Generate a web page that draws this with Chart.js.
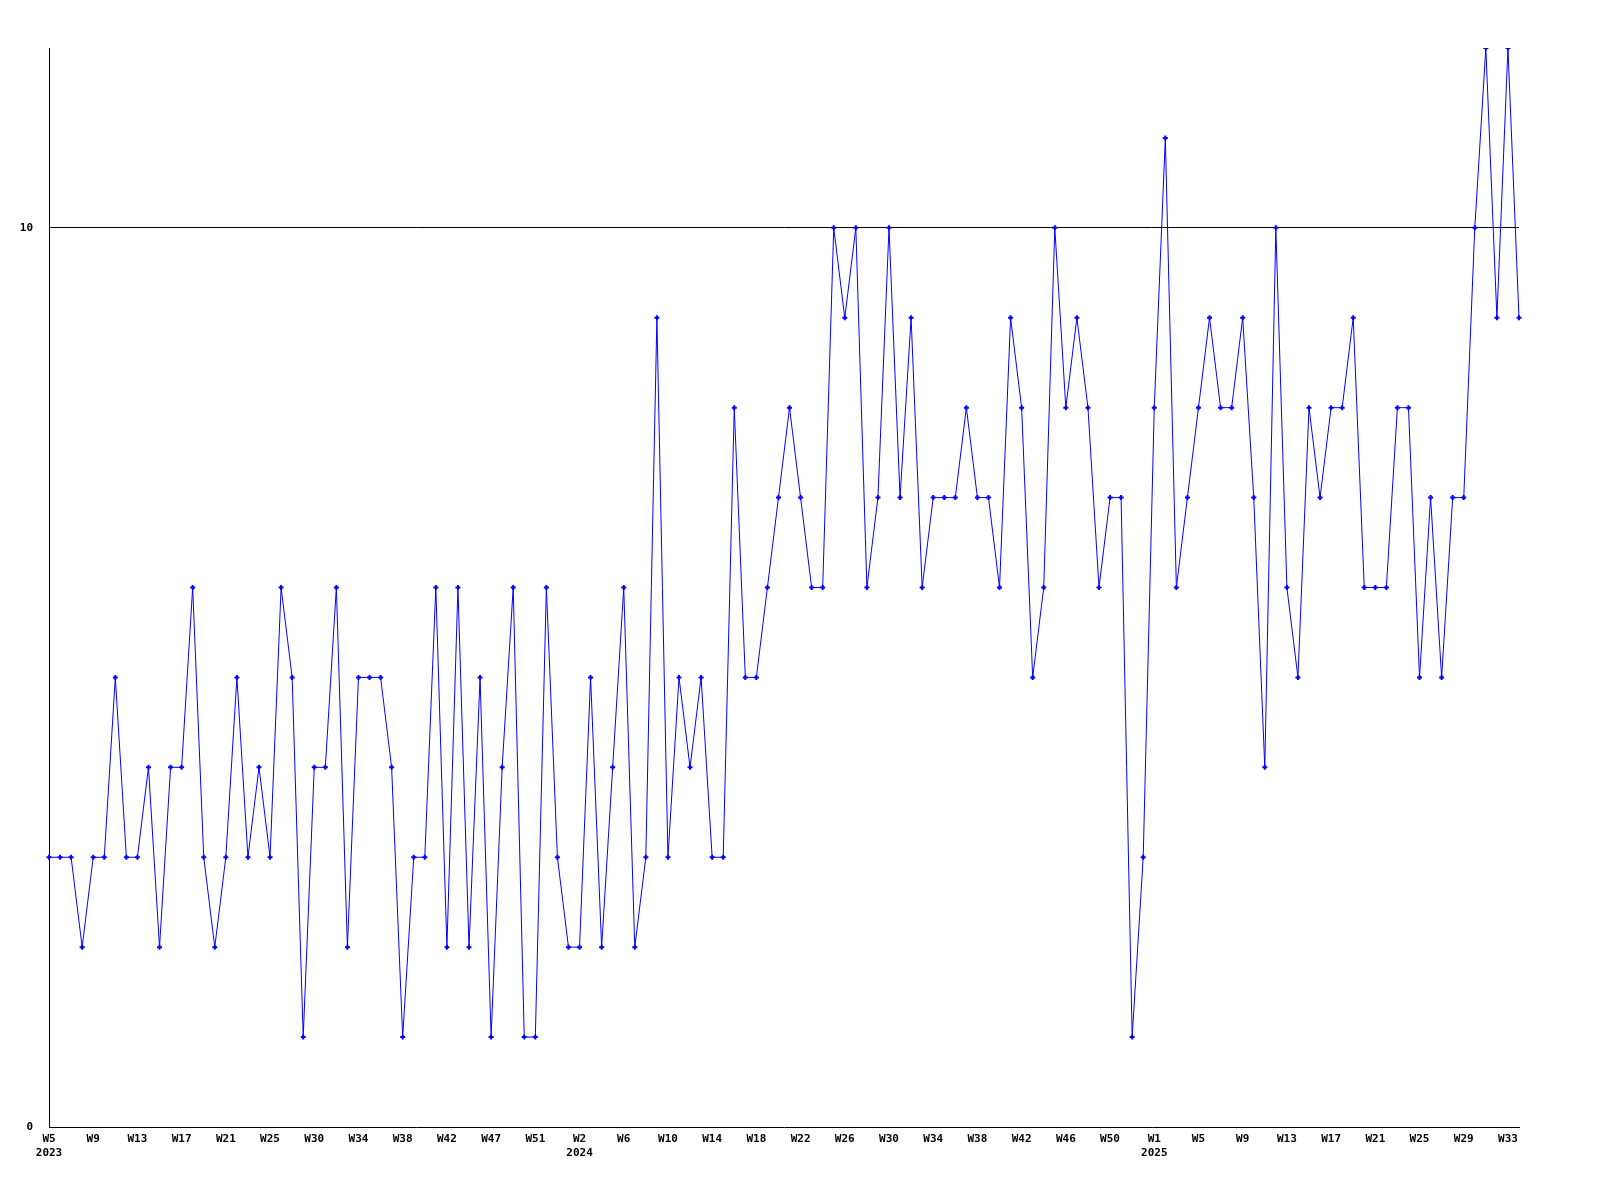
<!DOCTYPE html>
<html>
<head>
<meta charset="utf-8">
<script src="https://cdn.jsdelivr.net/npm/chart.js@4.4.1/dist/chart.umd.min.js"></script>
<style>
  html, body { margin: 0; padding: 0; background: #fff; }
  canvas { display: block; }
</style>
</head>
<body>
<canvas id="weekChart" width="1600" height="1200"></canvas>
<script>
// weekly counts, W5 2023 .. W34 2025
const values = [
  3, 3, 3, 2, 3, 3, 5, 3, 3, 4, 2, 4, 4, 6, 3, 2, 3, 5, 3, 4, 3, 6, 5, 1, 4, 4, 6, 2, 5, 5, 5, 4,
  1, 3, 3, 6, 2, 6, 2, 5, 1, 4, 6, 1, 1, 6, 3, 2, 2, 5, 2, 4, 6, 2, 3, 9, 3, 5, 4, 5, 3, 3, 8, 5, 5, 6,
  7, 8, 7, 6, 6, 10, 9, 10, 6, 7, 10, 7, 9, 6, 7, 7, 7, 8, 7, 7, 6, 9, 8, 5, 6, 10, 8, 9, 8, 6, 7, 7,
  1, 3, 8, 11, 6, 7, 8, 9, 8, 8, 9, 7, 4, 10, 6, 5, 8, 7, 8, 8, 9, 6, 6, 6, 8, 8, 5, 7, 5, 7, 7, 10, 12, 9, 12, 9
];

// one label every 4 points
const weekLabels = [
  'W5', 'W9', 'W13', 'W17', 'W21', 'W25', 'W30', 'W34', 'W38', 'W42', 'W47', 'W51',
  'W2', 'W6', 'W10', 'W14', 'W18', 'W22', 'W26', 'W30', 'W34', 'W38', 'W42', 'W46', 'W50',
  'W1', 'W5', 'W9', 'W13', 'W17', 'W21', 'W25', 'W29', 'W33'
];
const years = ['2023', '2024', '2025'];
const yearStart = [0, 48, 100];

const labels = values.map((v, i) => {
  if (i % 4 !== 0) return '';
  const y = yearStart.indexOf(i);
  return [weekLabels[i / 4], y >= 0 ? years[y] : ''];
});

const tickFont = { family: 'DejaVu Sans Mono', size: 11, weight: 'bold' };

new Chart(document.getElementById('weekChart').getContext('2d'), {
  type: 'line',
  data: {
    labels: labels,
    datasets: [{
      data: values,
      borderColor: '#0000ff',
      backgroundColor: '#0000ff',
      borderWidth: 1,
      tension: 0,
      fill: false,
      pointStyle: 'cross',
      pointRadius: 2.5,
      pointBorderWidth: 2,
      pointBorderColor: '#0000ff'
    }]
  },
  options: {
    responsive: false,
    animation: false,
    devicePixelRatio: 1,
    layout: { padding: { top: 48, right: 81, left: 0, bottom: 0 } },
    plugins: {
      legend: { display: false },
      tooltip: { enabled: false }
    },
    scales: {
      x: {
        offset: false,
        grid: { display: false, drawTicks: false },
        border: { display: true, color: '#000', width: 1 },
        ticks: {
          autoSkip: false,
          maxRotation: 0,
          minRotation: 0,
          padding: 6,
          color: '#000',
          font: tickFont
        },
        afterFit: (s) => { s.height = 73; }
      },
      y: {
        min: 0,
        max: 12,
        grid: {
          drawTicks: false,
          color: (c) => (c.tick && c.tick.value === 10 ? '#000' : 'rgba(0,0,0,0)'),
          lineWidth: 1
        },
        border: { display: true, color: '#000', width: 1 },
        ticks: {
          stepSize: 10,
          includeBounds: false,
          padding: 16,
          color: '#000',
          font: tickFont
        },
        afterFit: (s) => { s.width = 49; }
      }
    }
  }
});
</script>
</body>
</html>
